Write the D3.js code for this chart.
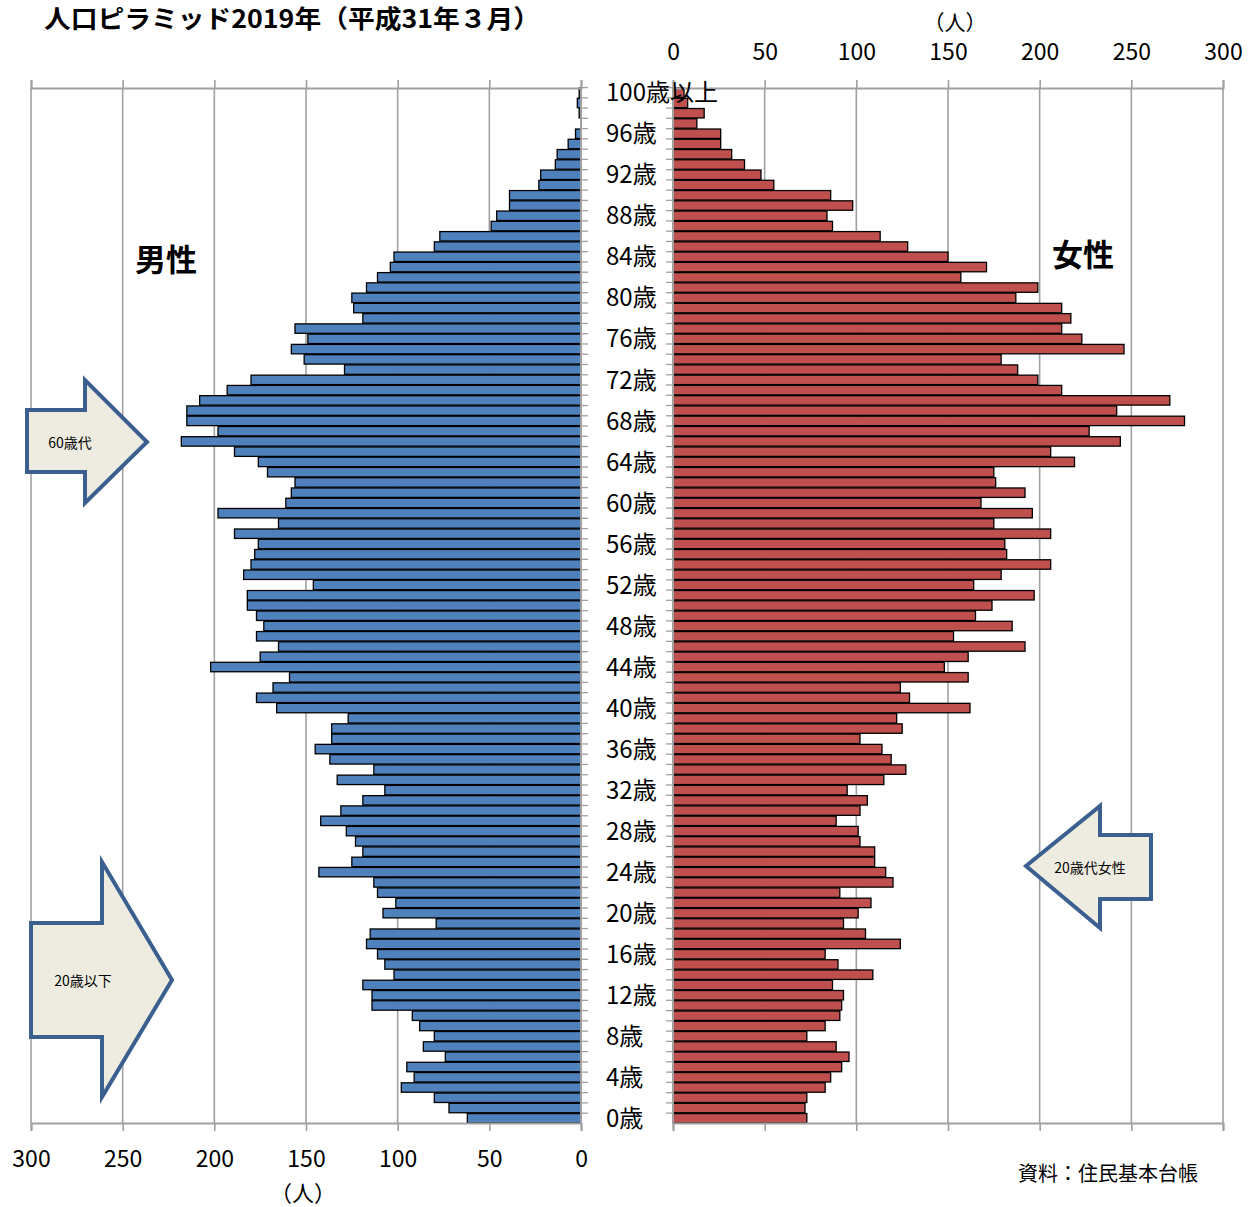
<!DOCTYPE html>
<html><head><meta charset="utf-8">
<script src="https://cdn.jsdelivr.net/npm/d3@7"></script>
<style>
body{margin:0;background:#fff}
text{font-family:"Noto Sans CJK JP","Noto Sans",sans-serif;fill:#000}
</style>
</head><body>
<svg id="c" width="1255" height="1207"></svg>
<script>
// ---- data (age 0 ... 100歳以上) ----
const ages = d3.range(0, 101).map(a => a < 100 ? a + "歳" : "100歳以上");
const male = [62,72,80,98,91,95,74,86,80,88,92,114,114,119,102,107,111,117,115,79,
  108,101,111,113,143,125,119,123,128,142,131,119,107,133,113,137,145,136,136,127,
  166,177,168,159,202,175,165,177,173,177,182,182,146,184,180,178,176,189,165,198,
  161,158,156,171,176,189,218,198,215,215,208,193,180,129,151,158,149,156,119,124,
  125,117,111,104,102,80,77,49,46,39,39,23,22,14,13,7,3,0,1,2,1];
const female = [73,72,73,83,86,92,96,89,73,83,91,92,93,87,109,90,83,124,105,93,
  101,108,91,120,116,110,110,102,101,89,102,106,95,115,127,119,114,102,125,122,
  162,129,124,161,148,161,192,153,185,165,174,197,164,179,206,182,181,206,175,196,
  168,192,176,175,219,206,244,227,279,242,271,212,199,188,179,246,223,212,217,212,
  187,199,157,171,150,128,113,87,84,98,86,55,48,39,32,26,26,13,17,8,6];
const valueTicks = [0,50,100,150,200,250,300];
const shownAges = ages.filter((d, i) => i % 4 === 0);
const chartTitle = "人口ピラミッド2019年（平成31年３月）";

const svg = d3.select("#c");
const yTop = 88, yBot = 1123;
const y = d3.scaleBand().domain(ages.slice().reverse()).range([yTop, yBot]).paddingInner(0.08);
const xM = d3.scaleLinear().domain([0, 300]).range([581, 31]);
const xF = d3.scaleLinear().domain([0, 300]).range([673, 1223]);
const gridCol = "#a0a0a0";
const FONT = '"Noto Sans CJK JP","Noto Sans",sans-serif';

// gridlines
[xM, xF].forEach(sc => {
  svg.append("g").selectAll("line").data(valueTicks).join("line")
    .attr("x1", d => sc(d)).attr("x2", d => sc(d))
    .attr("y1", yTop).attr("y2", yBot)
    .attr("stroke", gridCol).attr("stroke-width", 1.6);
});

// bars
const rowsM = ages.map((a, i) => ({a, v: male[i]})).filter(d => d.v > 0);
const rowsF = ages.map((a, i) => ({a, v: female[i]})).filter(d => d.v > 0);
svg.append("g").selectAll("rect").data(rowsM).join("rect")
  .attr("x", d => xM(d.v)).attr("width", d => xM(0) - xM(d.v))
  .attr("y", d => y(d.a)).attr("height", y.bandwidth())
  .attr("fill", "#4f81bd").attr("stroke", "#000").attr("stroke-width", 1.3);
svg.append("g").selectAll("rect").data(rowsF).join("rect")
  .attr("x", xF(0)).attr("width", d => xF(d.v) - xF(0))
  .attr("y", d => y(d.a)).attr("height", y.bandwidth())
  .attr("fill", "#c0504d").attr("stroke", "#000").attr("stroke-width", 1.3);

// axes
function styleAxis(g, showLabels) {
  g.select(".domain").attr("stroke", gridCol).attr("stroke-width", 2);
  g.selectAll(".tick line").attr("stroke", gridCol).attr("stroke-width", 1.6);
  g.selectAll(".tick text").attr("font-size", 23).attr("fill", "#000")
    .attr("font-family", FONT)
    .style("display", showLabels ? null : "none");
}
svg.append("g").attr("transform", `translate(0,${yTop})`)
  .call(d3.axisTop(xF).tickValues(valueTicks).tickSize(8).tickSizeOuter(8).tickPadding(20))
  .call(g => styleAxis(g, true));
svg.append("g").attr("transform", `translate(0,${yTop})`)
  .call(d3.axisTop(xM).tickValues(valueTicks).tickSize(8).tickSizeOuter(8))
  .call(g => styleAxis(g, false));
svg.append("g").attr("transform", `translate(0,${yBot})`)
  .call(d3.axisBottom(xM).tickValues(valueTicks).tickSize(8).tickSizeOuter(8).tickPadding(20))
  .call(g => styleAxis(g, true));
svg.append("g").attr("transform", `translate(0,${yBot})`)
  .call(d3.axisBottom(xF).tickValues(valueTicks).tickSize(8).tickSizeOuter(8))
  .call(g => styleAxis(g, false));

// category axes (vertical)
const step = y.step();
[[xM(0), 1], [xF(0), -1]].forEach(([x0, dir]) => {
  svg.append("line").attr("x1", x0).attr("x2", x0).attr("y1", yTop).attr("y2", yBot)
    .attr("stroke", gridCol).attr("stroke-width", 2);
  svg.append("g").selectAll("line").data(ages).join("line")
    .attr("x1", x0).attr("x2", x0 + dir * 7)
    .attr("y1", d => y(d) - y.paddingInner() * step / 2)
    .attr("y2", d => y(d) - y.paddingInner() * step / 2)
    .attr("stroke", gridCol).attr("stroke-width", 1.3);
});

// age labels
svg.append("g").selectAll("text").data(shownAges).join("text")
  .attr("x", 606).attr("y", d => y(d) + y.bandwidth() / 2)
  .attr("dy", "0.36em").attr("font-size", 24).text(d => d);

// titles and texts
svg.append("text").attr("x", 44).attr("y", 28).attr("font-size", 25).attr("font-weight", "bold")
  .attr("textLength", 496).attr("lengthAdjust", "spacingAndGlyphs").text(chartTitle);
svg.append("text").attr("x", 955).attr("y", 30).attr("text-anchor", "middle").attr("font-size", 21).text("（人）");
svg.append("text").attr("x", 303).attr("y", 1201).attr("text-anchor", "middle").attr("font-size", 22).text("（人）");
svg.append("text").attr("x", 166).attr("y", 271).attr("text-anchor", "middle").attr("font-size", 31).attr("font-weight", "bold").text("男性");
svg.append("text").attr("x", 1083).attr("y", 266).attr("text-anchor", "middle").attr("font-size", 31).attr("font-weight", "bold").text("女性");
svg.append("text").attr("x", 1018).attr("y", 1181).attr("font-size", 20).text("資料：住民基本台帳");

// annotation arrows
const arrowFill = "#eeece1", arrowStroke = "#3b6090";
function arrow(pts, label, lx, ly) {
  svg.append("path").attr("d", d3.line()(pts) + "Z")
    .attr("fill", arrowFill).attr("stroke", arrowStroke).attr("stroke-width", 4)
    .attr("stroke-linejoin", "miter");
  svg.append("text").attr("x", lx).attr("y", ly).attr("dy", "0.36em")
    .attr("text-anchor", "middle").attr("font-size", 14).text(label);
}
arrow([[27,410],[85,410],[85,380],[147,442],[85,503],[85,472],[27,472]], "60歳代", 70, 443);
arrow([[31,923],[102,923],[102,862],[172,980],[102,1097],[102,1037],[31,1037]], "20歳以下", 83, 981);
arrow([[1151,835],[1100,835],[1100,806],[1026,866],[1100,928],[1100,899],[1151,899]], "20歳代女性", 1090, 868);
</script>
</body></html>
